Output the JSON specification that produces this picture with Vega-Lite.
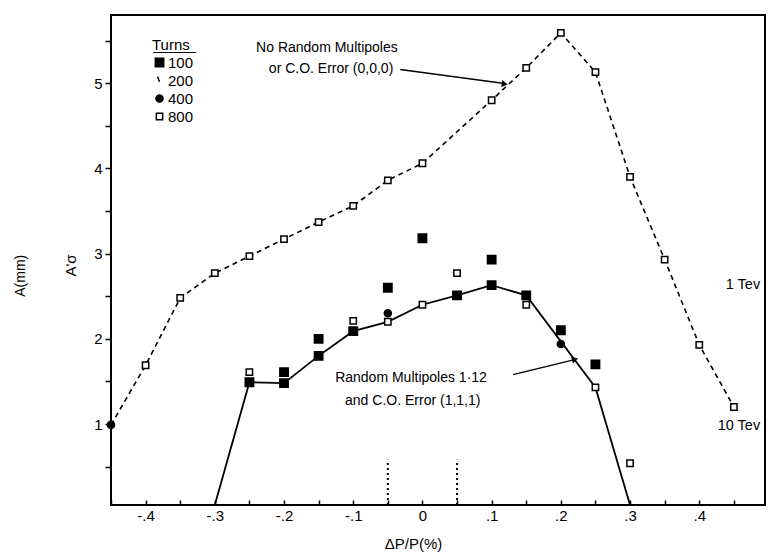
{
  "$schema": "https://vega.github.io/schema/vega-lite/v6.json",
  "width": 654,
  "height": 490,
  "autosize": {"type": "none"},
  "padding": {"left": 111, "top": 15, "right": 10, "bottom": 49},
  "background": "white",
  "config": {
    "font": "Liberation Sans",
    "view": {"stroke": "black", "strokeWidth": 2},
    "axis": {"grid": false, "domain": false, "labelFont": "Liberation Sans", "labelFontSize": 15, "labelColor": "black", "tickColor": "black", "tickWidth": 1.5, "titleFont": "Liberation Sans", "titleFontWeight": "normal", "titleColor": "black"},
    "legend": {"labelFont": "Liberation Sans", "titleFont": "Liberation Sans"}
  },
  "datasets": {
    "upper": [
      {"x": -0.45, "y": 0.99}, {"x": -0.4, "y": 1.69}, {"x": -0.35, "y": 2.48}, {"x": -0.3, "y": 2.77},
      {"x": -0.25, "y": 2.97}, {"x": -0.2, "y": 3.17}, {"x": -0.15, "y": 3.37}, {"x": -0.1, "y": 3.56},
      {"x": -0.05, "y": 3.86}, {"x": 0, "y": 4.06}, {"x": 0.1, "y": 4.8}, {"x": 0.15, "y": 5.18},
      {"x": 0.2, "y": 5.59}, {"x": 0.25, "y": 5.13}, {"x": 0.3, "y": 3.9}, {"x": 0.35, "y": 2.93},
      {"x": 0.4, "y": 1.93}, {"x": 0.45, "y": 1.2}
    ],
    "lower": [
      {"x": -0.3, "y": 0.05}, {"x": -0.25, "y": 1.49}, {"x": -0.2, "y": 1.48}, {"x": -0.15, "y": 1.8},
      {"x": -0.1, "y": 2.09}, {"x": -0.05, "y": 2.2}, {"x": 0, "y": 2.4}, {"x": 0.05, "y": 2.51},
      {"x": 0.1, "y": 2.63}, {"x": 0.15, "y": 2.51}, {"x": 0.25, "y": 1.43}, {"x": 0.3, "y": 0.05}
    ],
    "pts": [
      {"x": -0.45, "y": 0.99, "turns": "400"},
      {"x": -0.4, "y": 1.69, "turns": "800"}, {"x": -0.35, "y": 2.48, "turns": "800"}, {"x": -0.3, "y": 2.77, "turns": "800"},
      {"x": -0.25, "y": 2.97, "turns": "800"}, {"x": -0.2, "y": 3.17, "turns": "800"}, {"x": -0.15, "y": 3.37, "turns": "800"},
      {"x": -0.1, "y": 3.56, "turns": "800"}, {"x": -0.05, "y": 3.86, "turns": "800"}, {"x": 0, "y": 4.06, "turns": "800"},
      {"x": 0.1, "y": 4.8, "turns": "800"}, {"x": 0.15, "y": 5.18, "turns": "800"}, {"x": 0.2, "y": 5.59, "turns": "800"},
      {"x": 0.25, "y": 5.13, "turns": "800"}, {"x": 0.3, "y": 3.9, "turns": "800"}, {"x": 0.35, "y": 2.93, "turns": "800"},
      {"x": 0.4, "y": 1.93, "turns": "800"}, {"x": 0.45, "y": 1.2, "turns": "800"},
      {"x": -0.25, "y": 1.49, "turns": "100"}, {"x": -0.2, "y": 1.48, "turns": "100"}, {"x": -0.15, "y": 1.8, "turns": "100"},
      {"x": -0.1, "y": 2.09, "turns": "100"}, {"x": -0.05, "y": 2.2, "turns": "800"}, {"x": 0, "y": 2.4, "turns": "800"},
      {"x": 0.05, "y": 2.51, "turns": "100"}, {"x": 0.1, "y": 2.63, "turns": "100"}, {"x": 0.15, "y": 2.51, "turns": "100"},
      {"x": 0.25, "y": 1.43, "turns": "800"},
      {"x": -0.25, "y": 1.61, "turns": "800"}, {"x": -0.2, "y": 1.61, "turns": "100"}, {"x": -0.15, "y": 2.0, "turns": "100"},
      {"x": -0.1, "y": 2.21, "turns": "800"}, {"x": -0.05, "y": 2.3, "turns": "400"}, {"x": -0.05, "y": 2.6, "turns": "100"},
      {"x": 0, "y": 3.18, "turns": "100"}, {"x": 0.05, "y": 2.77, "turns": "800"}, {"x": 0.1, "y": 2.93, "turns": "100"},
      {"x": 0.15, "y": 2.4, "turns": "800"}, {"x": 0.2, "y": 2.1, "turns": "100"}, {"x": 0.2, "y": 1.94, "turns": "400"},
      {"x": 0.25, "y": 1.7, "turns": "100"}, {"x": 0.3, "y": 0.54, "turns": "800"}
    ],
    "dotted": [
      {"x": -0.05, "y": 0.05, "y2": 0.58}, {"x": 0.05, "y": 0.05, "y2": 0.58}
    ],
    "arrows": [
      {"x": -0.032, "y": 5.16, "x2": 0.116, "y2": 5.0},
      {"x": 0.131, "y": 1.58, "x2": 0.217, "y2": 1.75}
    ],
    "head1": [{"x": 0.119, "y": 4.99}],
    "head2": [{"x": 0.2205, "y": 1.76}],
    "notes": [
      {"x": -0.138, "y": 5.41, "label": "No Random Multipoles"},
      {"x": -0.132, "y": 5.17, "label": "or C.O. Error (0,0,0)"},
      {"x": -0.0165, "y": 1.54, "label": "Random Multipoles 1·12"},
      {"x": -0.014, "y": 1.27, "label": "and C.O. Error (1,1,1)"}
    ],
    "tev": [
      {"x": 0.488, "y": 2.63, "label": "1 Tev"},
      {"x": 0.488, "y": 0.98, "label": "10 Tev"}
    ],
    "amm": [{"x": -0.58, "y": 2.74, "label": "A(mm)"}],
    "underline": [{"x": -0.389, "x2": -0.327, "y": 5.36}]
  },
  "layer": [
    {
      "data": {"name": "upper"},
      "mark": {"type": "line", "stroke": "black", "strokeWidth": 1.6, "strokeDash": [5, 4]},
      "encoding": {
        "x": {"field": "x", "type": "quantitative", "scale": {"domain": [-0.45, 0.495], "nice": false, "zero": false},
          "axis": {"title": "ΔP/P(%)", "titleFontSize": 15, "titleX": 302, "titleY": 43, "titleBaseline": "alphabetic", "titleAnchor": "middle",
            "values": [-0.45, -0.4, -0.35, -0.3, -0.25, -0.2, -0.15, -0.1, -0.05, 0, 0.05, 0.1, 0.15, 0.2, 0.25, 0.3, 0.35, 0.4, 0.45],
            "tickCount": 40,
            "labelExpr": "datum.value == 0 ? '0' : (round(datum.value * 20) % 2 == 0 ? ((datum.value < 0 ? '-' : '') + '.' + round(abs(datum.value) * 10)) : '')",
            "tickSize": -5, "labelPadding": 8, "labelFlush": false, "labelOverlap": false}},
        "y": {"field": "y", "type": "quantitative", "scale": {"domain": [0.05, 5.8], "nice": false, "zero": false},
          "axis": {"title": "A'σ", "titleFontSize": 15, "titleAngle": -90, "titleX": -41, "titleY": 250, "titleBaseline": "middle", "titleAnchor": "middle",
            "values": [0.5, 1, 1.5, 2, 2.5, 3, 3.5, 4, 4.5, 5, 5.5],
            "tickCount": 40,
            "labelExpr": "datum.value % 1 == 0 ? format(datum.value, 'd') : ''",
            "tickSize": 6, "labelPadding": 3, "labelOverlap": false}}
      }
    },
    {
      "data": {"name": "lower"},
      "mark": {"type": "line", "stroke": "black", "strokeWidth": 1.8},
      "encoding": {
        "x": {"field": "x", "type": "quantitative"},
        "y": {"field": "y", "type": "quantitative"}
      }
    },
    {
      "data": {"name": "dotted"},
      "mark": {"type": "rule", "stroke": "black", "strokeWidth": 2, "strokeDash": [2, 3]},
      "encoding": {
        "x": {"field": "x", "type": "quantitative"},
        "y": {"field": "y", "type": "quantitative"},
        "y2": {"field": "y2"}
      }
    },
    {
      "data": {"name": "arrows"},
      "mark": {"type": "rule", "stroke": "black", "strokeWidth": 1.5},
      "encoding": {
        "x": {"field": "x", "type": "quantitative"},
        "y": {"field": "y", "type": "quantitative"},
        "x2": {"field": "x2"},
        "y2": {"field": "y2"}
      }
    },
    {
      "data": {"name": "head1"},
      "mark": {"type": "point", "shape": "triangle-right", "filled": true, "color": "black", "opacity": 1, "size": 50, "angle": 8},
      "encoding": {
        "x": {"field": "x", "type": "quantitative"},
        "y": {"field": "y", "type": "quantitative"}
      }
    },
    {
      "data": {"name": "head2"},
      "mark": {"type": "point", "shape": "triangle-right", "filled": true, "color": "black", "opacity": 1, "size": 50, "angle": -15},
      "encoding": {
        "x": {"field": "x", "type": "quantitative"},
        "y": {"field": "y", "type": "quantitative"}
      }
    },
    {
      "data": {"name": "pts"},
      "mark": {"type": "point", "filled": true, "stroke": "black", "strokeWidth": 1.5, "opacity": 1},
      "encoding": {
        "x": {"field": "x", "type": "quantitative"},
        "y": {"field": "y", "type": "quantitative"},
        "shape": {"field": "turns", "type": "nominal",
          "scale": {"domain": ["100", "200", "400", "800"], "range": ["square", "M-0.5,-1L0,0.3", "circle", "square"]},
          "legend": {"title": "Turns", "orient": "none", "legendX": 41, "legendY": 23, "titleFontSize": 15, "titleFontWeight": "normal", "titleColor": "black",
            "labelFontSize": 15, "labelColor": "black", "symbolSize": 70, "symbolStrokeColor": "black", "symbolStrokeWidth": 1.5, "rowPadding": 2, "titlePadding": 2, "labelOffset": 1, "padding": 0}},
        "fill": {"field": "turns", "type": "nominal",
          "scale": {"domain": ["100", "200", "400", "800"], "range": ["black", "black", "black", "white"]}},
        "size": {"field": "turns", "type": "nominal",
          "scale": {"domain": ["100", "200", "400", "800"], "range": [70, 40, 60, 60]}}
      }
    },
    {
      "data": {"name": "underline"},
      "mark": {"type": "rule", "stroke": "black", "strokeWidth": 1.2},
      "encoding": {
        "x": {"field": "x", "type": "quantitative"},
        "x2": {"field": "x2"},
        "y": {"field": "y", "type": "quantitative"}
      }
    },
    {
      "data": {"name": "notes"},
      "mark": {"type": "text", "fontSize": 14, "align": "center", "baseline": "middle", "color": "black"},
      "encoding": {
        "x": {"field": "x", "type": "quantitative"},
        "y": {"field": "y", "type": "quantitative"},
        "text": {"field": "label"}
      }
    },
    {
      "data": {"name": "tev"},
      "mark": {"type": "text", "fontSize": 14.5, "align": "right", "baseline": "middle", "color": "black"},
      "encoding": {
        "x": {"field": "x", "type": "quantitative"},
        "y": {"field": "y", "type": "quantitative"},
        "text": {"field": "label"}
      }
    },
    {
      "data": {"name": "amm"},
      "mark": {"type": "text", "fontSize": 14, "align": "center", "baseline": "middle", "color": "black", "angle": 270},
      "encoding": {
        "x": {"field": "x", "type": "quantitative"},
        "y": {"field": "y", "type": "quantitative"},
        "text": {"field": "label"}
      }
    }
  ]
}
